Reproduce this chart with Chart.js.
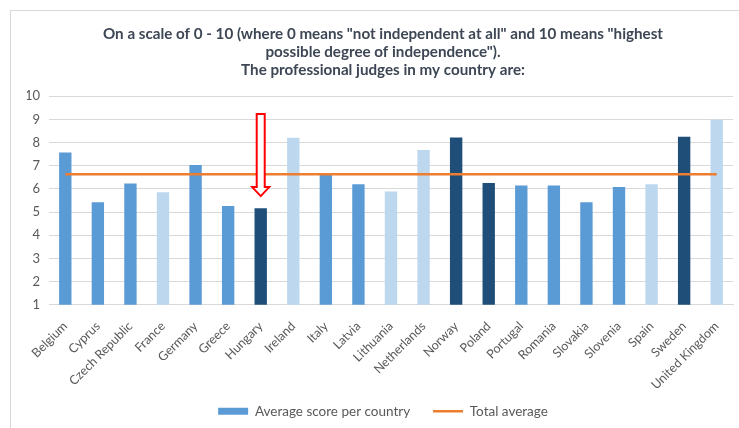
<!DOCTYPE html>
<html>
<head>
<meta charset="utf-8">
<script src="https://cdn.jsdelivr.net/npm/chart.js@4.4.1/dist/chart.umd.min.js"></script>
<style>
    body { margin: 0; background: #fff; overflow: hidden; }
    #wrap { position: relative; width: 739px; height: 428px; }
    #frame { position: absolute; left: 10px; top: 10px; width: 800px; height: 500px; border: 1px solid #d9d9d9; }
    #chart { position: absolute; left: 0; top: 0; }
</style>
</head>
<body>
<div id="wrap">
    <div id="frame"></div>
    <canvas id="chart" width="739" height="428"></canvas>
</div>
<script>
// Datos del gráfico
const countries = ["Belgium", "Cyprus", "Czech Republic", "France", "Germany", "Greece", "Hungary",
    "Ireland", "Italy", "Latvia", "Lithuania", "Netherlands", "Norway", "Poland", "Portugal",
    "Romania", "Slovakia", "Slovenia", "Spain", "Sweden", "United Kingdom"];
const scores = [7.57, 5.42, 6.23, 5.86, 7.03, 5.26, 5.17, 8.21, 6.60, 6.20, 5.89,
    7.68, 8.22, 6.26, 6.15, 6.15, 5.42, 6.08, 6.20, 8.25, 8.98];
// Grupo de color de cada barra: 0 = medio, 1 = claro, 2 = oscuro
const colorGroup = [0, 0, 0, 1, 0, 0, 2, 1, 0, 0, 1, 1, 2, 2, 0, 0, 0, 0, 1, 2, 1];
const totalAverage = [6.63, 6.63, 6.63, 6.63, 6.63, 6.63, 6.63, 6.63, 6.63, 6.63, 6.63,
    6.63, 6.63, 6.63, 6.63, 6.63, 6.63, 6.63, 6.63, 6.63, 6.63];
const yTicks = [1, 2, 3, 4, 5, 6, 7, 8, 9, 10];
const titleLines = [
    'On a scale of 0 - 10 (where 0 means "not independent at all" and 10 means "highest',
    'possible degree of independence").',
    'The professional judges in my country are:'
];
// Flecha roja sobre Hungría (índice de categoría, valor superior, valor de la punta)
const arrowIndex = 6;
const arrowTop = 9.23;
const arrowTip = 5.69;

const palette = ["#5B9BD5", "#BDD7EE", "#1F4E79"];
const barColors = colorGroup.map(g => palette[g]);

// Plugin para dibujar la flecha
const arrowPlugin = {
    id: 'arrow',
    afterDatasetsDraw(chart) {
        const ctx = chart.ctx;
        const x = chart.scales.x.getPixelForValue(arrowIndex);
        const yTop = chart.scales.y.getPixelForValue(arrowTop);
        const yTip = chart.scales.y.getPixelForValue(arrowTip);
        const headLen = 9, shaft = 4, head = 8.5;
        ctx.save();
        ctx.beginPath();
        ctx.moveTo(x - shaft, yTop);
        ctx.lineTo(x + shaft, yTop);
        ctx.lineTo(x + shaft, yTip - headLen);
        ctx.lineTo(x + head, yTip - headLen);
        ctx.lineTo(x, yTip);
        ctx.lineTo(x - head, yTip - headLen);
        ctx.lineTo(x - shaft, yTip - headLen);
        ctx.closePath();
        ctx.fillStyle = "#ffffff";
        ctx.fill();
        ctx.strokeStyle = "#ff0000";
        ctx.lineWidth = 2;
        ctx.stroke();
        ctx.restore();
    }
};

// Desplazar un poco el título y la leyenda hacia la derecha (el marco original es más ancho)
const shiftPlugin = {
    id: 'shift',
    afterLayout(chart) {
        [chart.titleBlock, chart.legend].forEach(box => {
            box.left += 3;
            box.right += 3;
        });
    }
};

const ctx = document.getElementById("chart").getContext("2d");
const chart = new Chart(ctx, {
    data: {
        labels: countries,
        datasets: [{
            type: "bar",
            label: "Average score per country",
            data: scores,
            backgroundColor: barColors,
            borderWidth: 0,
            barPercentage: 0.38,
            categoryPercentage: 1,
            order: 1,
        }, {
            type: "line",
            label: "Total average",
            data: totalAverage,
            borderColor: "#ED7D31",
            backgroundColor: "#ED7D31",
            borderWidth: 2.5,
            pointRadius: 0,
            fill: false,
            order: 0,
        }],
    },
    options: {
        responsive: false,
        animation: false,
        layout: { padding: { left: 27, right: 6, bottom: 0 } },
        plugins: {
            title: {
                display: true,
                text: titleLines,
                color: "#3d4654",
                font: { family: "Lato", size: 15.2, weight: "bold" },
                lineHeight: 1.15,
                padding: { top: 25, bottom: 16.5 },
            },
            legend: {
                position: "bottom",
                labels: {
                    color: "#595959",
                    font: { family: "Lato", size: 13.5 },
                    usePointStyle: true,
                    boxWidth: 30,
                    boxHeight: 7,
                    pointStyleWidth: 30,
                    padding: 6,
                    generateLabels(chart) {
                        const items = Chart.defaults.plugins.legend.labels.generateLabels(chart);
                        items.sort((a, b) => a.datasetIndex - b.datasetIndex);
                        items.forEach(item => {
                            if (item.datasetIndex === 0) {
                                item.pointStyle = "rect";
                                item.fillStyle = palette[0];
                                item.strokeStyle = palette[0];
                                item.lineWidth = 0;
                                item.text = item.text + "\u2003\u2002";
                            } else {
                                item.pointStyle = "line";
                                item.strokeStyle = "#ED7D31";
                                item.lineWidth = 2.5;
                            }
                        });
                        return items;
                    },
                },
            },
            tooltip: { enabled: false },
        },
        scales: {
            x: {
                grid: { display: false },
                border: { color: "#d9d9d9" },
                ticks: {
                    color: "#595959",
                    font: { family: "Lato", size: 12.5 },
                    minRotation: 45,
                    maxRotation: 45,
                    padding: 6,
                },
            },
            y: {
                min: yTicks[0],
                max: yTicks[yTicks.length - 1],
                grid: { color: "#d9d9d9", drawTicks: false },
                border: { display: false },
                afterBuildTicks(axis) {
                    axis.ticks = yTicks.map(v => ({ value: v }));
                },
                afterFit(axis) {
                    axis.width = 22;
                },
                ticks: {
                    color: "#595959",
                    font: { family: "Lato", size: 13 },
                    padding: 9,
                },
            },
        },
    },
    plugins: [arrowPlugin, shiftPlugin],
});
</script>
</body>
</html>
